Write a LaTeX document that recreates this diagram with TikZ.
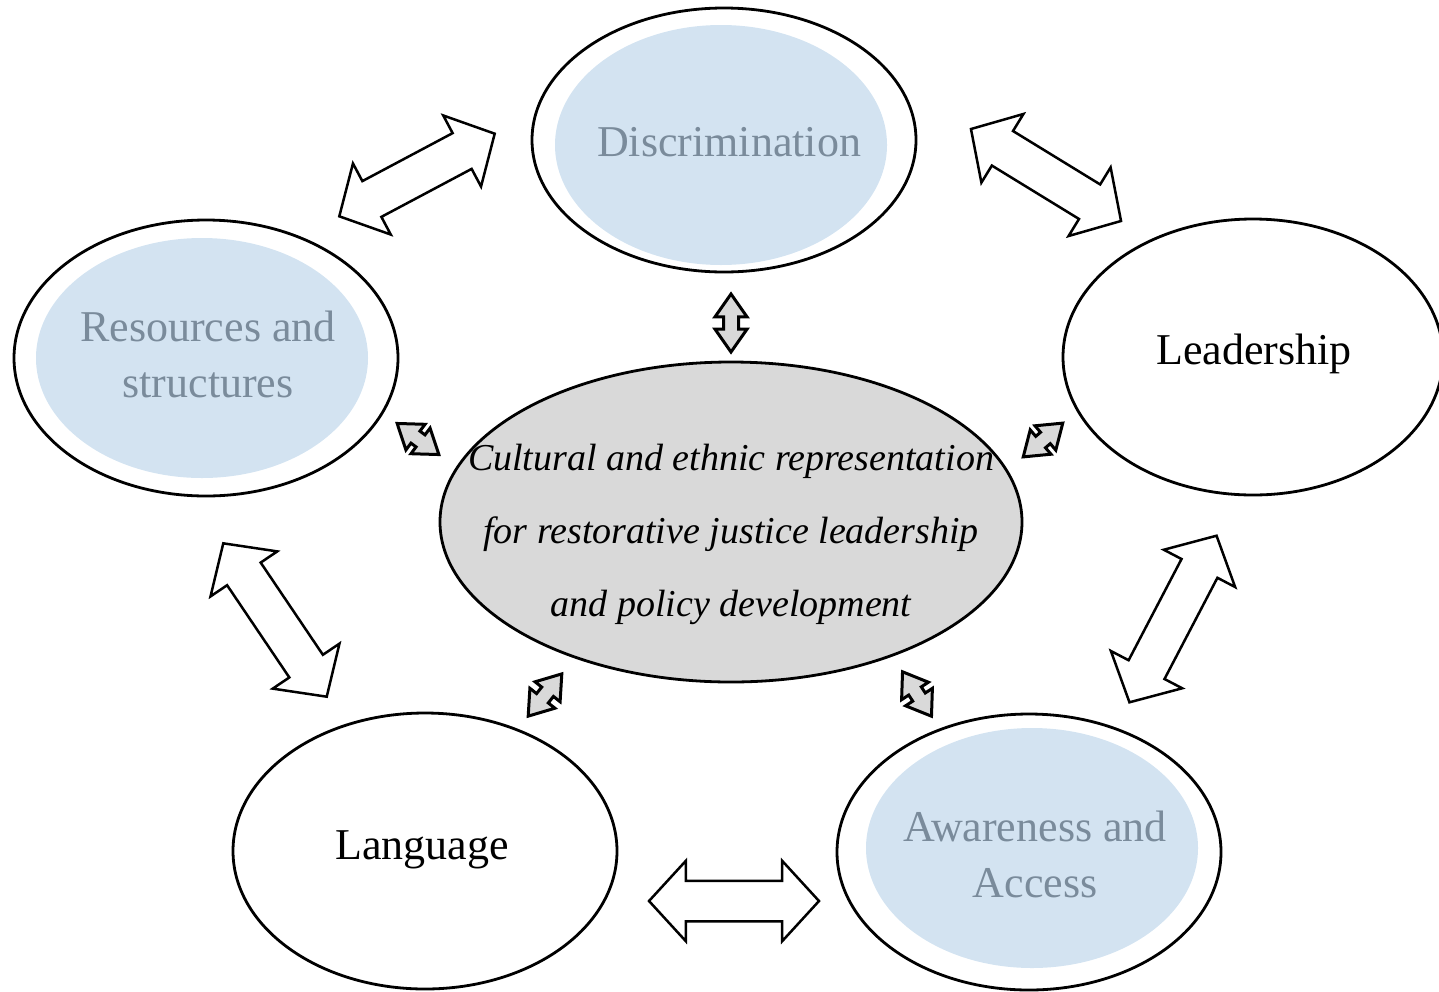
\documentclass[tikz,border=0pt]{standalone}
\usepackage{fontspec}
\setmainfont{Liberation Serif}
\usetikzlibrary{shapes.geometric,shapes.arrows}
\definecolor{paleblue}{HTML}{D3E3F1}
\definecolor{slate}{HTML}{7A8B9B}
\definecolor{coregray}{HTML}{D9D9D9}
\begin{document}
\begin{tikzpicture}[x=1pt,y=-1pt,
  ring/.style={ellipse,draw,line width=2.8pt,inner sep=0pt,minimum width=384pt,minimum height=276pt},
  blob/.style={ellipse,fill=paleblue,inner sep=0pt,minimum width=332pt,minimum height=240pt},
  topic/.style={font=\fontsize{44}{56}\selectfont,align=center},
  bigarrow/.style={double arrow,draw,line width=2.5pt,fill=white,inner xsep=0pt,inner ysep=19pt,double arrow head extend=20pt,double arrow tip angle=95},
  smallarrow/.style={double arrow,draw,line width=3pt,fill=coregray,inner xsep=0pt,inner ysep=6pt,double arrow head extend=8.5pt,double arrow tip angle=70}]
\useasboundingbox (0,0) rectangle (1439,991);
% the five themes
\node[ring,minimum height=264pt] (discring) at (724,140) {};
\node[blob] (discblob) at (721,145) {};
\node[topic,text=slate] (disc) at (729,142) {Discrimination};
\node[ring] (resring) at (206,358) {};
\node[blob] (resblob) at (202,358) {};
\node[topic,text=slate] (res) at (208,354) {Resources and\\structures};
\node[ring,minimum width=380pt] (leadring) at (1253,357) {};
\node[topic] (lead) at (1254,354) {Leadership};
\node[ring] (langring) at (425,851) {};
\node[topic] (lang) at (422,850) {Language};
\node[ring] (awring) at (1029,852) {};
\node[blob] (awblob) at (1032,848) {};
\node[topic,text=slate] (aw) at (1035,854) {Awareness and\\Access};
% core
\node[ellipse,draw,line width=2.8pt,fill=coregray,inner sep=0pt,minimum width=582pt,minimum height=320pt] (corering) at (731,522) {};
\node[font=\fontsize{38}{73}\selectfont\itshape,align=center] (core) at (731,534)
  {Cultural and ethnic representation\\for restorative justice leadership\\and policy development};
% links between themes
\node[bigarrow,minimum height=176pt,rotate=28] (discres) at (417,175) {};
\node[bigarrow,minimum height=176pt,rotate=-31.5] (disclead) at (1046,175) {};
\node[bigarrow,minimum height=185pt,rotate=-56] (reslang) at (275,620) {};
\node[bigarrow,minimum height=188pt,rotate=62.4] (leadaw) at (1173,619) {};
\node[bigarrow,minimum height=170pt] (langaw) at (734,901) {};
% links to the core
\node[smallarrow,minimum height=58pt,rotate=90] (disccore) at (731,323) {};
\node[smallarrow,minimum height=52pt,rotate=-36.7] (rescore) at (418,439) {};
\node[smallarrow,minimum height=52pt,rotate=40.5] (leadcore) at (1043,440) {};
\node[smallarrow,minimum height=54pt,rotate=51.5] (langcore) at (545,695) {};
\node[smallarrow,minimum height=53pt,rotate=-56.9] (awcore) at (917,694) {};
\end{tikzpicture}
\end{document}
